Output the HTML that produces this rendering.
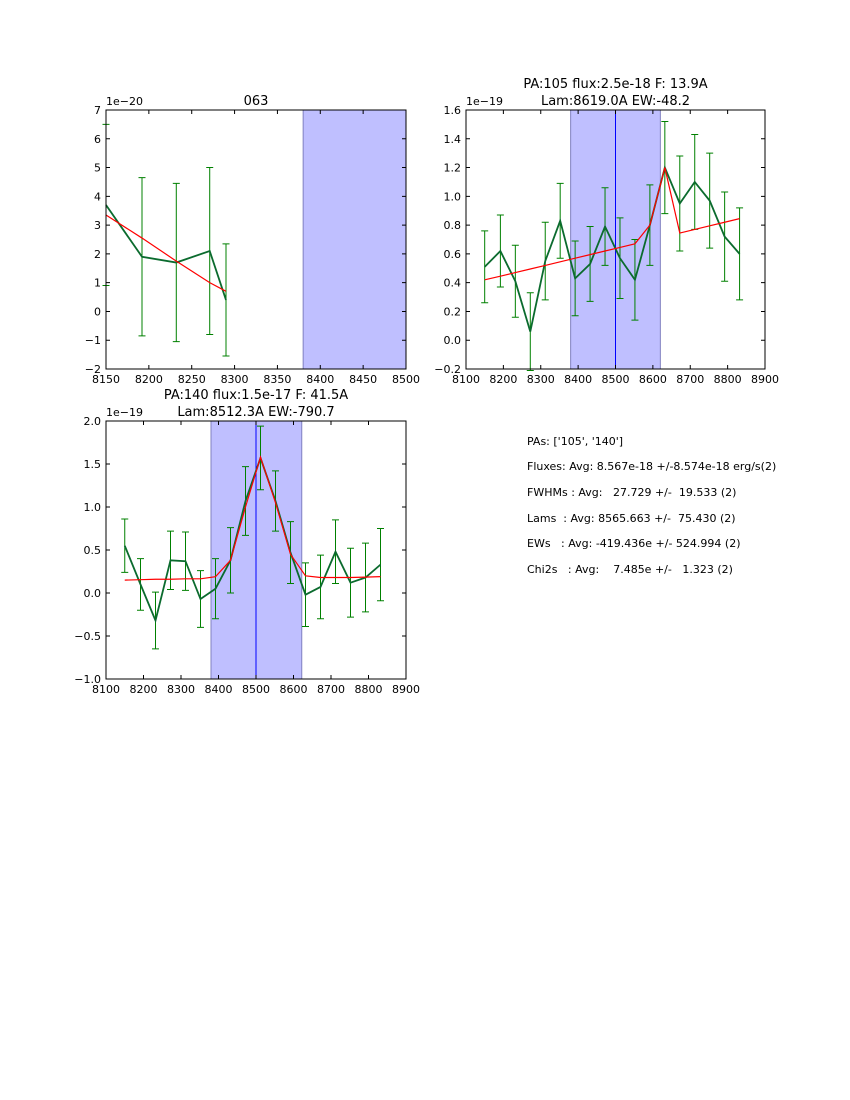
<!DOCTYPE html>
<html><head><meta charset="utf-8"><style>
html,body{margin:0;padding:0;background:#fff;}
svg{display:block;font-family:"DejaVu Sans","Liberation Sans",sans-serif;}
</style></head><body>
<svg id="fig" width="850" height="1100" viewBox="0 0 850 1100">
<rect width="850" height="1100" fill="#fff"/>
<g font-size="11" fill="#000">
<text x="527" y="445" xml:space="preserve">PAs: ['105', '140']</text>
<text x="527" y="470" xml:space="preserve">Fluxes: Avg: 8.567e-18 +/-8.574e-18 erg/s(2)</text>
<text x="527" y="496" xml:space="preserve">FWHMs : Avg:   27.729 +/-  19.533 (2)</text>
<text x="527" y="522" xml:space="preserve">Lams  : Avg: 8565.663 +/-  75.430 (2)</text>
<text x="527" y="547" xml:space="preserve">EWs   : Avg: -419.436e +/- 524.994 (2)</text>
<text x="527" y="573" xml:space="preserve">Chi2s   : Avg:    7.485e +/-   1.323 (2)</text>
</g>
</svg>
<script>
// Panel 1 (063)
const p1_x=[8150,8192,8232,8271,8290];
const p1_y=[3.7,1.9,1.7,2.1,0.4];
const p1_err=[2.8,2.75,2.75,2.9,1.95];
const p1_fit=[3.35,2.55,1.75,1.0,0.7];
const p1_xticks=[8150,8200,8250,8300,8350,8400,8450,8500];
const p1_yticks=[-2,-1,0,1,2,3,4,5,6,7];
// Panel 2 (PA 105)
const p2_x=[8150,8192,8232,8272,8312,8352,8392,8432,8472,8512,8552,8592,8632,8672,8712,8752,8792,8832];
const p2_y=[0.51,0.62,0.41,0.06,0.55,0.83,0.43,0.53,0.79,0.57,0.42,0.80,1.20,0.95,1.10,0.97,0.72,0.60];
const p2_err=[0.25,0.25,0.25,0.27,0.27,0.26,0.26,0.26,0.27,0.28,0.28,0.28,0.32,0.33,0.33,0.33,0.31,0.32];
const p2_fit=[0.42,0.445,0.47,0.495,0.52,0.545,0.57,0.595,0.62,0.645,0.67,0.80,1.20,0.745,0.77,0.795,0.82,0.845];
const p2_xticks=[8100,8200,8300,8400,8500,8600,8700,8800,8900];
const p2_yticks=[-0.2,0.0,0.2,0.4,0.6,0.8,1.0,1.2,1.4,1.6];
// Panel 3 (PA 140)
const p3_x=p2_x;
const p3_y=[0.55,0.10,-0.32,0.38,0.37,-0.07,0.05,0.38,1.07,1.57,1.07,0.47,-0.02,0.07,0.48,0.12,0.18,0.33];
const p3_err=[0.31,0.30,0.33,0.34,0.34,0.33,0.35,0.38,0.40,0.37,0.35,0.36,0.37,0.37,0.37,0.40,0.40,0.42];
const p3_fit=[0.15,0.155,0.16,0.16,0.165,0.165,0.19,0.38,1.0,1.58,1.05,0.45,0.20,0.18,0.18,0.18,0.185,0.19];
const p3_yticks=[-1.0,-0.5,0.0,0.5,1.0,1.5,2.0];

const NS="http://www.w3.org/2000/svg";
const svg=document.getElementById('fig');
function mk(tag,attrs,parent){const e=document.createElementNS(NS,tag);for(const k in attrs)e.setAttribute(k,attrs[k]);(parent||svg).appendChild(e);return e;}

function panel(o){
  const g=mk('g',{});
  
  
  const X=v=>o.l+(v-o.x0)/(o.x1-o.x0)*(o.r-o.l);
  const Y=v=>o.b-(v-o.y0)/(o.y1-o.y0)*(o.b-o.t);
  // span
  const sx0=Math.max(X(o.span[0]),o.l), sx1=Math.min(X(o.span[1]),o.r);
  const sp=mk('rect',{x:sx0,y:o.t,width:sx1-sx0,height:o.b-o.t,fill:'#bfbfff',stroke:'#8080c0','stroke-width':1},g);
  
  
  const vl=mk('line',{x1:X(o.vline),x2:X(o.vline),y1:o.t,y2:o.b,stroke:'#0000ff','stroke-width':1},g);
  
  
  // error bars
  for(let i=0;i<o.xs.length;i++){
    const x=X(o.xs[i]),ya=Y(o.ys[i]+o.err[i]),yb=Y(o.ys[i]-o.err[i]);
    const eb=mk('path',{d:`M${x},${ya}V${yb}M${x-3.5},${ya}H${x+3.5}M${x-3.5},${yb}H${x+3.5}`,stroke:'#008000','stroke-width':1,fill:'none'},g);
    
    
  }
  const dl=mk('polyline',{points:o.xs.map((v,i)=>X(v)+','+Y(o.ys[i])).join(' '),stroke:'#0b6b2e','stroke-width':1.8,fill:'none'},g);
  
  
  const fl=mk('polyline',{points:o.xs.map((v,i)=>X(v)+','+Y(o.fit[i])).join(' '),stroke:'#ff0000','stroke-width':1.2,fill:'none'},g);
  
  
  // frame
  const fr=mk('rect',{x:o.l,y:o.t,width:o.r-o.l,height:o.b-o.t,fill:'none',stroke:'#000','stroke-width':1},g);
  
  
  o.xticks.forEach(v=>{
    const x=X(v);
    mk('path',{d:`M${x},${o.b}v-4M${x},${o.t}v4`,stroke:'#000','stroke-width':1},g);
    const t=mk('text',{x:x,y:o.b+14,'font-size':11,'text-anchor':'middle'},g);
    t.textContent=v;
    
    
  });
  o.yticks.forEach(v=>{
    const y=Y(v);
    mk('path',{d:`M${o.l},${y}h4M${o.r},${y}h-4`,stroke:'#000','stroke-width':1},g);
    const t=mk('text',{x:o.l-5,y:y+4,'font-size':11,'text-anchor':'end'},g);
    t.textContent=(v<0?'\u2212':'')+Math.abs(v).toFixed(o.dec);
    
    
  });
  const off=mk('text',{x:o.l,y:o.t-5,'font-size':11},g);
  off.textContent=o.offset;
  
  
  o.title.forEach((s,i)=>{
    const t=mk('text',{x:(o.l+o.r)/2,y:o.t-5-(o.title.length-1-i)*17,'font-size':13,'text-anchor':'middle'},g);
    t.textContent=s;
    
    
  });
}
panel({name:'panel-063',l:106,r:406,t:110,b:369,x0:8150,x1:8500,y0:-2,y1:7,xs:p1_x,ys:p1_y,err:p1_err,fit:p1_fit,xticks:p1_xticks,yticks:p1_yticks,dec:0,span:[8380,8520],vline:8500,offset:'1e\u221220',title:['063']});
panel({name:'panel-pa105',l:466,r:765,t:110,b:369,x0:8100,x1:8900,y0:-0.2,y1:1.6,xs:p2_x,ys:p2_y,err:p2_err,fit:p2_fit,xticks:p2_xticks,yticks:p2_yticks,dec:1,span:[8380,8620],vline:8500,offset:'1e\u221219',title:['PA:105 flux:2.5e-18 F: 13.9A','Lam:8619.0A EW:-48.2']});
panel({name:'panel-pa140',l:106,r:406,t:421,b:679,x0:8100,x1:8900,y0:-1,y1:2,xs:p3_x,ys:p3_y,err:p3_err,fit:p3_fit,xticks:p2_xticks,yticks:p3_yticks,dec:1,span:[8380,8622],vline:8500,offset:'1e\u221219',title:['PA:140 flux:1.5e-17 F: 41.5A','Lam:8512.3A EW:-790.7']});
</script>
</body></html>
